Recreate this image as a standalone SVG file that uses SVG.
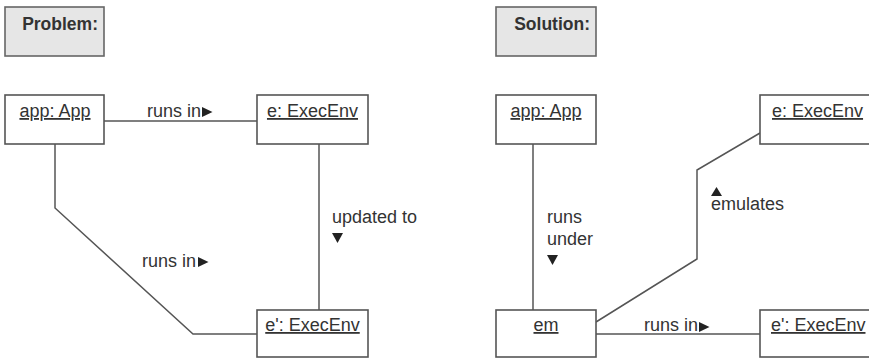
<svg xmlns="http://www.w3.org/2000/svg" width="869" height="358" viewBox="0 0 869 358">
<style>
text{font-family:"Liberation Sans",Arial,sans-serif;font-size:18px;fill:#333}
.title{font-weight:bold;text-anchor:end;font-size:17.5px}
.obj{fill:#fff;stroke:#555;stroke-width:1.6}
.hdr{fill:#e6e6e6;stroke:#666;stroke-width:1.6}
.nm{text-anchor:middle;text-decoration:underline}
.ln{fill:none;stroke:#555;stroke-width:1.5}
.tri{fill:#222}
</style>
<defs>
<polygon id="tr" class="tri" points="0,0 10.5,5 0,10"/>
<polygon id="td" class="tri" points="0,0 11,0 5.5,10"/>
<polygon id="tu" class="tri" points="0,9 11,9 5.5,0"/>
</defs>
<g id="problem-label"><rect class="hdr" x="5" y="7" width="99" height="49"/><text class="title" x="98" y="30">Problem:</text></g>
<g id="solution-label"><rect class="hdr" x="496" y="7" width="100" height="49"/><text class="title" x="590" y="30">Solution:</text></g>
<g id="connectors">
<line class="ln" x1="104" y1="121" x2="257" y2="121"/>
<polyline class="ln" points="55,144 55,208 193,334 257,334"/>
<line class="ln" x1="319" y1="144" x2="319" y2="310"/>
<line class="ln" x1="533" y1="144" x2="533" y2="310"/>
<polyline class="ln" points="596,322 697,259 697,170 760,133"/>
<line class="ln" x1="596" y1="334" x2="760" y2="334"/>
<text x="147" y="117">runs in</text><use href="#tr" x="202" y="107"/>
<text x="142" y="267">runs in</text><use href="#tr" x="198" y="257"/>
<text x="332" y="223">updated to</text><use href="#td" x="332" y="233"/>
<text x="547" y="223">runs</text><text x="547" y="245">under</text><use href="#td" x="547" y="255"/>
<use href="#tu" x="711" y="187"/><text x="711" y="210">emulates</text>
<text x="644" y="331">runs in</text><use href="#tr" x="699" y="322"/>
</g>
<g id="p-app"><rect class="obj" x="5" y="95" width="99" height="49"/><text class="nm" x="55" y="117">app: App</text></g>
<g id="p-e"><rect class="obj" x="257" y="95" width="111" height="49"/><text class="nm" x="312.5" y="117">e: ExecEnv</text></g>
<g id="p-e2"><rect class="obj" x="257" y="310" width="111" height="47"/><text class="nm" x="312.5" y="331">e': ExecEnv</text></g>
<g id="s-app"><rect class="obj" x="496" y="95" width="100" height="49"/><text class="nm" x="546" y="117">app: App</text></g>
<g id="s-em"><rect class="obj" x="496" y="310" width="100" height="47"/><text class="nm" x="546" y="331">em</text></g>
<g id="s-e"><rect class="obj" x="760" y="95" width="120" height="49"/><text x="772" y="117" style="text-decoration:underline">e: ExecEnv</text></g>
<g id="s-e2"><rect class="obj" x="760" y="310" width="120" height="47"/><text x="771" y="331" style="text-decoration:underline">e': ExecEnv</text></g>
</svg>
